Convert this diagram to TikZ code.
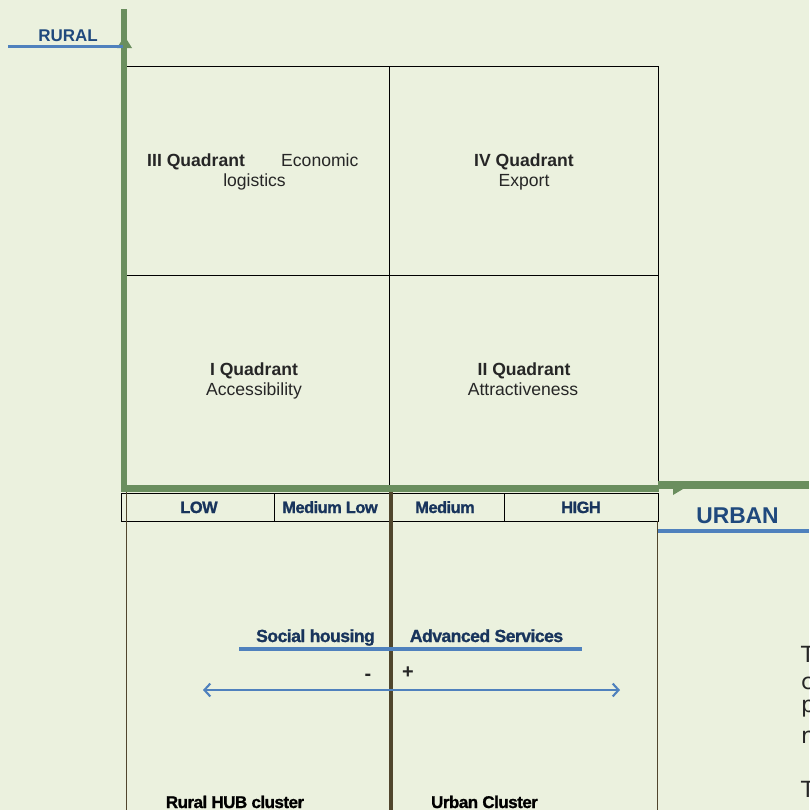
\documentclass[tikz,border=0pt]{standalone}
\usepackage{fontspec}
\setmainfont{Liberation Sans}
\newfontfamily\tightfont[LetterSpace=-3.0,BoldFeatures={FakeBold=1.2}]{Liberation Sans}
\newfontfamily\sidefont{DejaVu Sans}
\usetikzlibrary{arrows.meta,positioning}

\definecolor{paper}{RGB}{235,241,222}
\definecolor{axisgreen}{RGB}{106,142,94}
\definecolor{lineblue}{RGB}{79,129,189}
\definecolor{labelblue}{RGB}{31,73,125}
\definecolor{navy}{RGB}{24,52,92}
\definecolor{midline}{RGB}{80,70,45}

\begin{document}
\begin{tikzpicture}[x=0.03cm,y=-0.03cm,
  every node/.style={inner sep=0pt,anchor=base},
  axis/.style={draw=axisgreen,line width=4.3pt},
  grid/.style={draw=black,line width=0.8pt},
  under/.style={draw=lineblue,line width=3pt},
  quad/.style={font=\fontsize{15}{17}\selectfont,text=black!85},
  quadname/.style={quad,font=\bfseries\fontsize{15}{17}\selectfont},
  level/.style={font=\tightfont\bfseries\fontsize{14}{16}\selectfont,text=navy},
  axisname/.style={font=\bfseries,text=labelblue},
  cluster/.style={font=\tightfont\bfseries\fontsize{14.5}{16}\selectfont,text=black}]

\fill[paper] (0,0) rectangle (809,810);
\useasboundingbox (0,0) rectangle (809,810);

% quadrant grid
\coordinate (nw) at (121,66);
\coordinate (se) at (658,485);
\coordinate (gtop) at (389,66);
\coordinate (gbot) at (389,485);
\coordinate (gleft) at (121,275);
\coordinate (gright) at (658,275);
\draw[grid] (nw) rectangle (se);
\draw[grid] (gtop) -- (gbot);
\draw[grid] (gleft) -- (gright);

% scale row
\coordinate (rownw) at (121,493);
\coordinate (rowse) at (658,521);
\draw[grid] (rownw) rectangle (rowse);
\draw[grid] (274,493) -- (274,521);
\draw[grid] (504,493) -- (504,521);

% lower box
\draw[midline,line width=0.8pt] (126,485) -- (126,810);
\draw[midline,line width=0.8pt] (657,521) -- (657,810);
\coordinate (mtop) at (391,485);
\coordinate (mbot) at (391,810);
\draw[midline,line width=3.4pt] (mtop) -- (mbot);

% axes
\coordinate (origin) at (124,488);
\coordinate (ytop) at (124,9);
\coordinate (xmid) at (659,488.5);
\coordinate (xend) at (809,485);
\draw[axis] (origin) -- (ytop);
\fill[axisgreen] (117,48) -- (124.5,36) -- (132,48) -- cycle;
\draw[axisgreen,line width=6pt] (121,488.5) -- (xmid);
\draw[axisgreen,line width=7.5pt] (658,485) -- (xend);
\fill[axisgreen] (673,489) -- (673,495) -- (683,489) -- cycle;

\node[axisname,font=\bfseries\fontsize{14.5}{16}\selectfont] (rural) at (68,41) {RURAL};
\coordinate (ruralend) at (8,46.5);
\coordinate (ruralaxis) at (123,46.5);
\draw[under] (ruralend) -- (ruralaxis);

\node[axisname,font=\bfseries\fontsize{19.5}{22}\selectfont] (urban) at (737.5,523) {URBAN};
\coordinate (urbanstart) at (658,531);
\coordinate (urbanend) at (809,531);
\draw[under] (urbanstart) -- (urbanend);

% quadrants
\node[quadname,anchor=base west] (q3) at (147,166.5) {III Quadrant};
\node[quad,anchor=base west] (q3a) at (281,166.5) {Economic};
\node[quad] (q3b) at (254.5,186.5) {logistics};
\node[quadname] (q4) at (524,166.5) {IV Quadrant};
\node[quad] (q4a) at (524,186.5) {Export};
\node[quadname] (q1) at (254,375.5) {I Quadrant};
\node[quad] (q1a) at (254,395.5) {Accessibility};
\node[quadname] (q2) at (524,375.5) {II Quadrant};
\node[quad] (q2a) at (523,395.5) {Attractiveness};

% levels
\node[level] (low) at (199,513) {LOW};
\node[level] (medlow) at (330,513) {Medium Low};
\node[level] (med) at (445,513) {Medium};
\node[level] (high) at (581,513) {HIGH};

% services
\node[level,font=\tightfont\bfseries\fontsize{15}{16}\selectfont] (social) at (315.5,642) {Social housing};
\node[level,font=\tightfont\bfseries\fontsize{15}{16}\selectfont] (advanced) at (486.5,642) {Advanced Services};
\coordinate (svcleft) at (239,649);
\coordinate (svcright) at (582,649);
\draw[under] (svcleft) -- (svcright);

\node[quad,font=\bfseries\fontsize{17}{19}\selectfont,anchor=center] (minus) at (368,677) {-};
\node[quad,font=\bfseries\fontsize{17}{19}\selectfont,anchor=center] (plus) at (408,673) {+};
\coordinate (lowend) at (203,690);
\coordinate (highend) at (620,690);
\draw[lineblue,line width=1.8pt,{Straight Barb[length=5pt,width=11pt]}-{Straight Barb[length=5pt,width=11pt]}] (lowend) -- (highend);

\node[cluster] (ruralhub) at (235,808) {Rural HUB cluster};
\node[cluster] (urbancl) at (484.5,808) {Urban Cluster};

% cut-off text at the right edge
\begin{scope}[every node/.style={inner sep=0pt,anchor=base west,font=\sidefont\fontsize{19}{23}\selectfont,text=black!85}]
\node (s1) at (801,662) {T};
\node (s2) at (801,689) {c};
\node (s3) at (801,712) {p};
\node (s4) at (801,743) {r};
\node (s5) at (801,797) {T};
\end{scope}

\end{tikzpicture}
\end{document}
